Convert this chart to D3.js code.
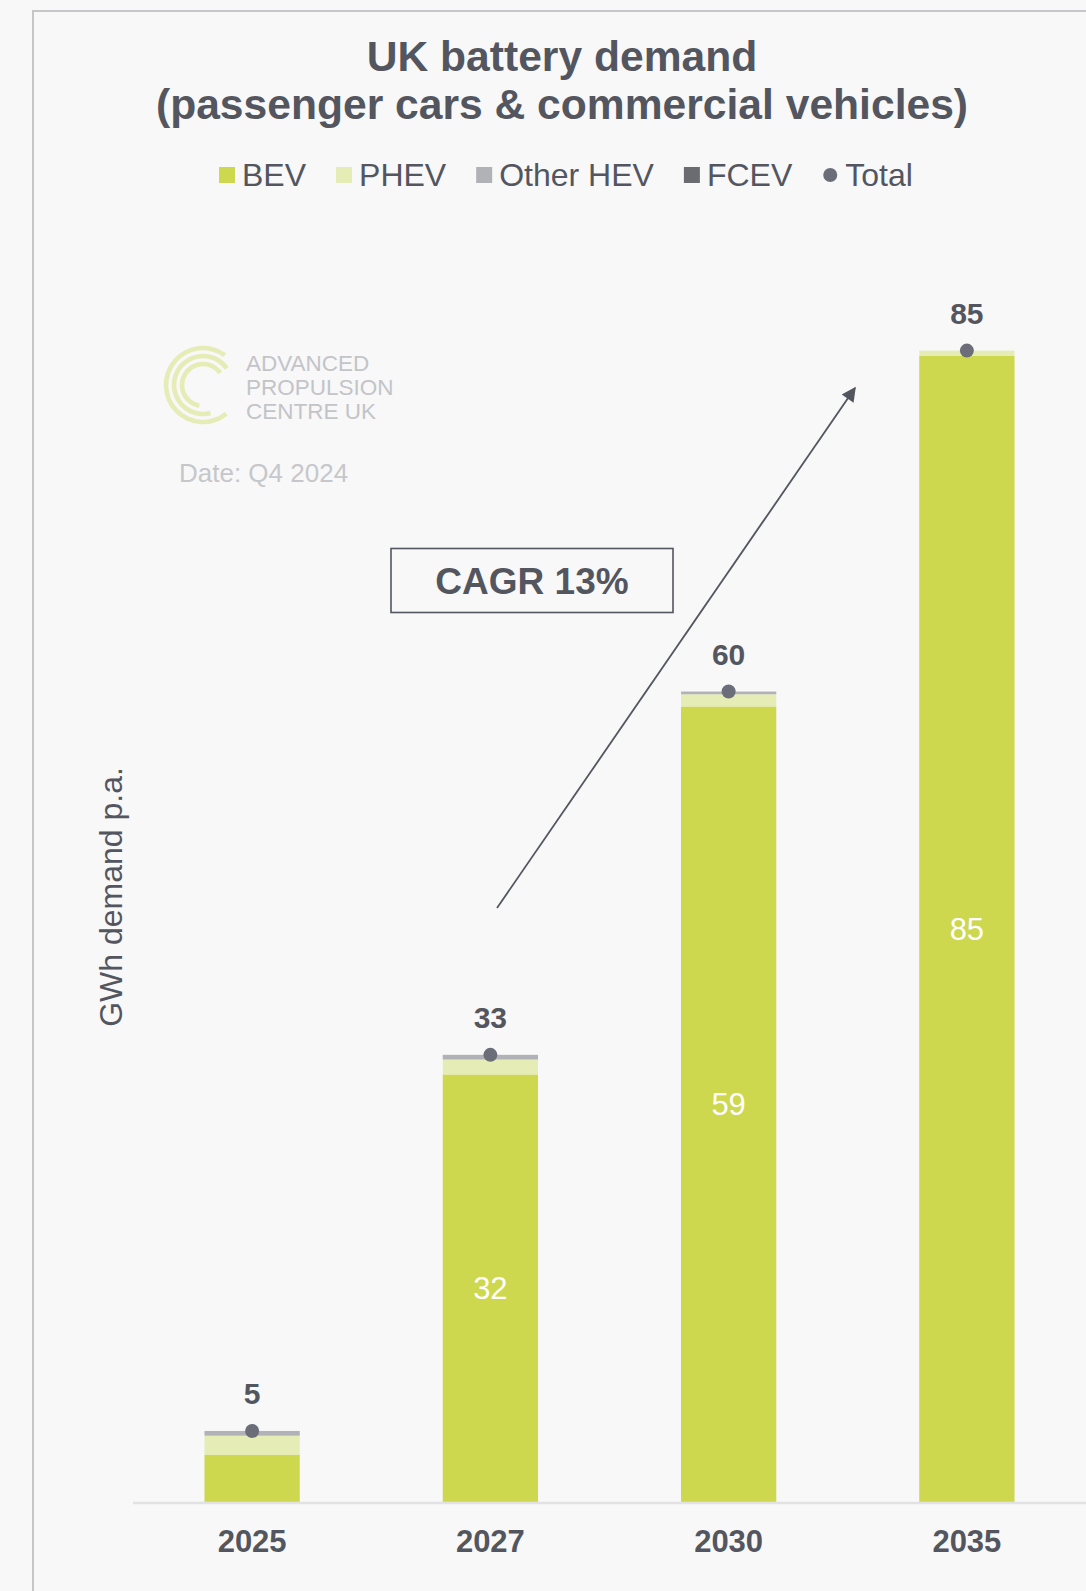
<!DOCTYPE html>
<html>
<head>
<meta charset="utf-8">
<script src="https://cdn.jsdelivr.net/npm/d3@7"></script>
<style>
  html, body { margin: 0; padding: 0; background: #f8f8f8; }
  svg { display: block; }
  text { font-family: "Liberation Sans", Arial, sans-serif; }
</style>
</head>
<body>
<svg id="chart" width="1086" height="1591"></svg>
<script>
// Battery demand by powertrain, GWh per year
const years = ["2025", "2027", "2030", "2035"];
const bev = [3.5, 31.6, 58.8, 84.7];
const phev = [1.4, 1.1, 0.9, 0.4];
const otherHev = [0.35, 0.35, 0.2, 0.0];
const fcev = [0, 0, 0, 0];
const seriesNames = ["BEV", "PHEV", "Other HEV", "FCEV"];
const seriesColors = ["#cdd84f", "#e6ecb5", "#b1b2b8", "#6a6c72"];
const totalColor = "#6b6e78";
const textColor = "#53565f";

const titleLines = ["UK battery demand", "(passenger cars & commercial vehicles)"];
const yAxisTitle = "GWh demand p.a.";
const cagrLabel = "CAGR 13%";
const logoLines = ["ADVANCED", "PROPULSION", "CENTRE UK"];
const dateLabel = "Date: Q4 2024";

const rows = years.map((yr, i) => ({
  year: yr, BEV: bev[i], PHEV: phev[i], "Other HEV": otherHev[i], FCEV: fcev[i]
}));
rows.forEach(r => { r.total = seriesNames.reduce((s, k) => s + r[k], 0); });

const svg = d3.select("#chart");

// frame
svg.append("path")
  .attr("d", "M33,1591 V11 H1086")
  .attr("fill", "none").attr("stroke", "#c6c6c8").attr("stroke-width", 2);

// title
svg.append("g").selectAll("text").data(titleLines).join("text")
  .attr("x", 562).attr("y", (d, i) => 71 + i * 48)
  .attr("text-anchor", "middle")
  .attr("font-size", 42.6).attr("font-weight", "bold")
  .attr("fill", textColor).text(d => d);

// scales
const x = d3.scaleBand().domain(years).range([133, 1086]).paddingInner(0.6).paddingOuter(0.3);
const y = d3.scaleLinear().domain([0, 100]).range([1502, 149]);

// stacked bars
const stack = d3.stack().keys(seriesNames)(rows);
const color = d3.scaleOrdinal().domain(seriesNames).range(seriesColors);

svg.append("g").selectAll("g").data(stack).join("g")
  .attr("fill", d => color(d.key))
  .selectAll("rect").data(d => d).join("rect")
  .attr("x", d => x(d.data.year))
  .attr("width", x.bandwidth())
  .attr("y", d => y(d[1]))
  .attr("height", d => Math.max(0, y(d[0]) - y(d[1])));

// x axis baseline
svg.append("line")
  .attr("x1", 133).attr("x2", 1086)
  .attr("y1", y(0) + 1).attr("y2", y(0) + 1)
  .attr("stroke", "#e2e2e4").attr("stroke-width", 2.5);

// category labels
const xAxis = d3.axisBottom(x).tickSize(0).tickPadding(0);
const gx = svg.append("g").attr("transform", `translate(0,${y(0) + 50})`).call(xAxis);
gx.select(".domain").remove();
gx.selectAll("text")
  .attr("dy", 0).attr("y", 0)
  .attr("font-size", 31).attr("font-weight", "bold")
  .attr("font-family", "Liberation Sans, Arial, sans-serif")
  .attr("fill", textColor);

// BEV values inside bars
svg.append("g").selectAll("text").data(rows.filter(r => r.BEV >= 10)).join("text")
  .attr("x", d => x(d.year) + x.bandwidth() / 2)
  .attr("y", d => (y(0) + y(d.BEV)) / 2 + 11)
  .attr("text-anchor", "middle")
  .attr("font-size", 31).attr("fill", "#ffffff")
  .text(d => d3.format(".0f")(d.BEV));

// totals: dot and label
svg.append("g").selectAll("circle").data(rows).join("circle")
  .attr("cx", d => x(d.year) + x.bandwidth() / 2)
  .attr("cy", d => y(d.total))
  .attr("r", 7).attr("fill", totalColor);

svg.append("g").selectAll("text").data(rows).join("text")
  .attr("x", d => x(d.year) + x.bandwidth() / 2)
  .attr("y", d => y(d.total) - 27)
  .attr("text-anchor", "middle")
  .attr("font-size", 30).attr("font-weight", "bold")
  .attr("fill", textColor)
  .text(d => d3.format(".0f")(d.total));

// y axis title
svg.append("text")
  .attr("transform", "translate(122,897) rotate(-90)")
  .attr("text-anchor", "middle")
  .attr("font-size", 32).attr("fill", textColor)
  .text(yAxisTitle);

// legend
const legend = svg.append("g").attr("transform", "translate(219,175)");
let lx = 0;
seriesNames.concat(["Total"]).forEach((name, i) => {
  const g = legend.append("g").attr("transform", `translate(${lx},0)`);
  if (name === "Total") {
    g.append("circle").attr("cx", 8).attr("cy", 0).attr("r", 7).attr("fill", totalColor);
  } else {
    g.append("rect").attr("x", 0).attr("y", -8).attr("width", 16).attr("height", 16)
      .attr("fill", color(name));
  }
  const t = g.append("text").attr("x", 23).attr("y", 11)
    .attr("font-size", 32).attr("fill", textColor).text(name);
  lx += 23 + t.node().getComputedTextLength() + 30;
});

// logo
const logo = svg.append("g").attr("transform", "translate(203,385)");
const arcs = [
  { r: 37, a0: 141, a1: 396 },
  { r: 29, a0: 165, a1: 415 },
  { r: 21, a0: 190, a1: 415 }
];
logo.selectAll("path").data(arcs).join("path")
  .attr("d", d => d3.arc()({
    innerRadius: d.r - 2.3, outerRadius: d.r + 2.3,
    startAngle: d.a0 * Math.PI / 180, endAngle: d.a1 * Math.PI / 180
  }))
  .attr("fill", "#e6ecb5");
svg.append("g").selectAll("text").data(logoLines).join("text")
  .attr("x", 246).attr("y", (d, i) => 371 + i * 24)
  .attr("font-family", "Lato, sans-serif")
  .attr("font-size", 22.5).attr("fill", "#c3c4c8")
  .text(d => d);
svg.append("text")
  .attr("x", 179).attr("y", 482)
  .attr("font-size", 26).attr("fill", "#c6c7cb")
  .text(dateLabel);

// CAGR annotation
svg.append("rect")
  .attr("x", 391).attr("y", 548.5).attr("width", 282).attr("height", 64)
  .attr("fill", "none").attr("stroke", textColor).attr("stroke-width", 1.6);
svg.append("text")
  .attr("x", 532).attr("y", 594)
  .attr("text-anchor", "middle")
  .attr("font-size", 37).attr("font-weight", "bold")
  .attr("fill", textColor).text(cagrLabel);

svg.append("defs").append("marker")
  .attr("id", "arrowhead")
  .attr("viewBox", "0 0 10 10").attr("refX", 9).attr("refY", 5)
  .attr("markerWidth", 9).attr("markerHeight", 8)
  .attr("markerUnits", "strokeWidth")
  .attr("orient", "auto")
  .append("path").attr("d", "M0,0 L10,5 L0,10 Z").attr("fill", textColor);

svg.append("line")
  .attr("x1", 497).attr("y1", 908).attr("x2", 855).attr("y2", 388)
  .attr("stroke", textColor).attr("stroke-width", 1.8)
  .attr("marker-end", "url(#arrowhead)");
</script>
</body>
</html>
